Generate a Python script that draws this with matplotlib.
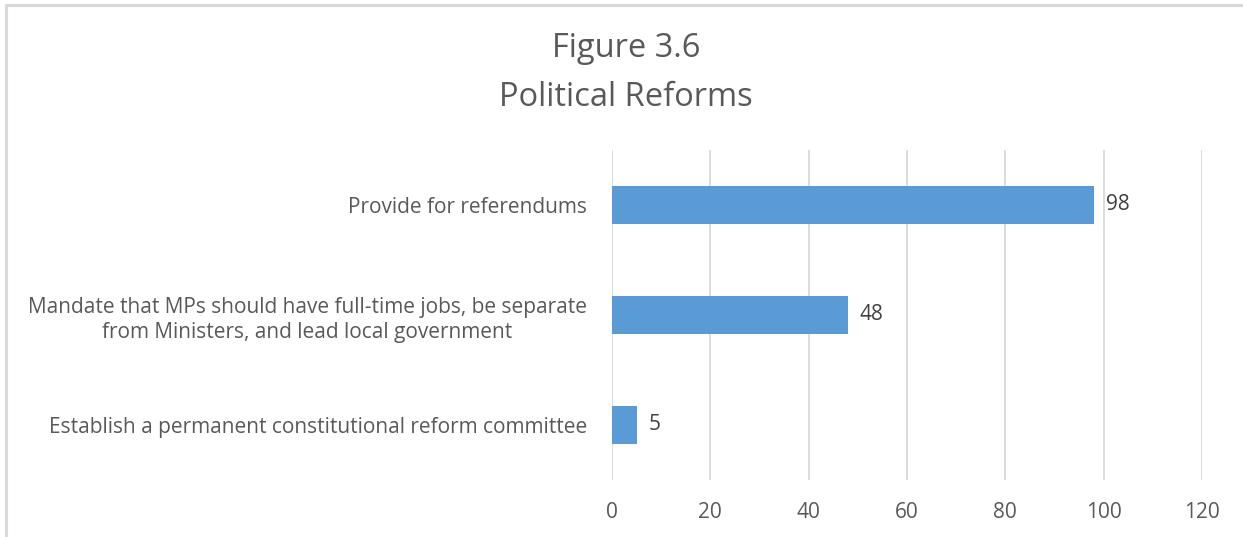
import matplotlib.pyplot as plt
from matplotlib.lines import Line2D

categories = [
    "Establish a permanent constitutional reform committee",
    "Mandate that MPs should have full-time jobs, be separate\nfrom Ministers, and lead local government",
    "Provide for referendums",
]
values = [5, 48, 98]
xticks = [0, 20, 40, 60, 80, 100, 120]

plt.rcParams['font.family'] = ['Open Sans', 'DejaVu Sans']
grey = '#595959'

fig = plt.figure(figsize=(12.43, 5.37), dpi=100)
ax = fig.add_axes([612 / 1243, 1 - 480 / 537, 590 / 1243, 330 / 537])

# chart frame: top and left edges
fig.add_artist(Line2D([6 / 1243, 1.0], [1 - 5 / 537] * 2, transform=fig.transFigure,
                      color='#D9D9D9', linewidth=2.2))
fig.add_artist(Line2D([6 / 1243] * 2, [0.0, 1 - 5 / 537], transform=fig.transFigure,
                      color='#D9D9D9', linewidth=2.2))

y = range(len(categories))
bars = ax.barh(y, values, height=0.35, color='#5B9BD5', zorder=3)
for b, v in zip(bars, values):
    ax.text(b.get_width() + 2.4, b.get_y() + b.get_height() / 2, str(v),
            va='center', ha='left', fontsize=15, color='#404040')

ax.set_xlim(0, 120)
ax.set_ylim(-0.5, 2.5)
ax.set_xticks(xticks)
ax.set_yticks(list(y))
ax.set_yticklabels(categories, fontsize=15, color=grey, multialignment='center',
                   linespacing=1.3)
ax.tick_params(axis='x', labelsize=15, colors=grey, length=0, pad=16)
ax.tick_params(axis='y', length=0, pad=18)
ax.grid(axis='x', color='#D9D9D9', linewidth=1.3, zorder=0)
for s in ax.spines.values():
    s.set_visible(False)

fig.text(626 / 1243, 1 - 73 / 537, "Figure 3.6\nPolitical Reforms",
         ha='center', va='center', fontsize=23.5, color=grey, linespacing=1.65)

fig.savefig('out.png', dpi=100)
